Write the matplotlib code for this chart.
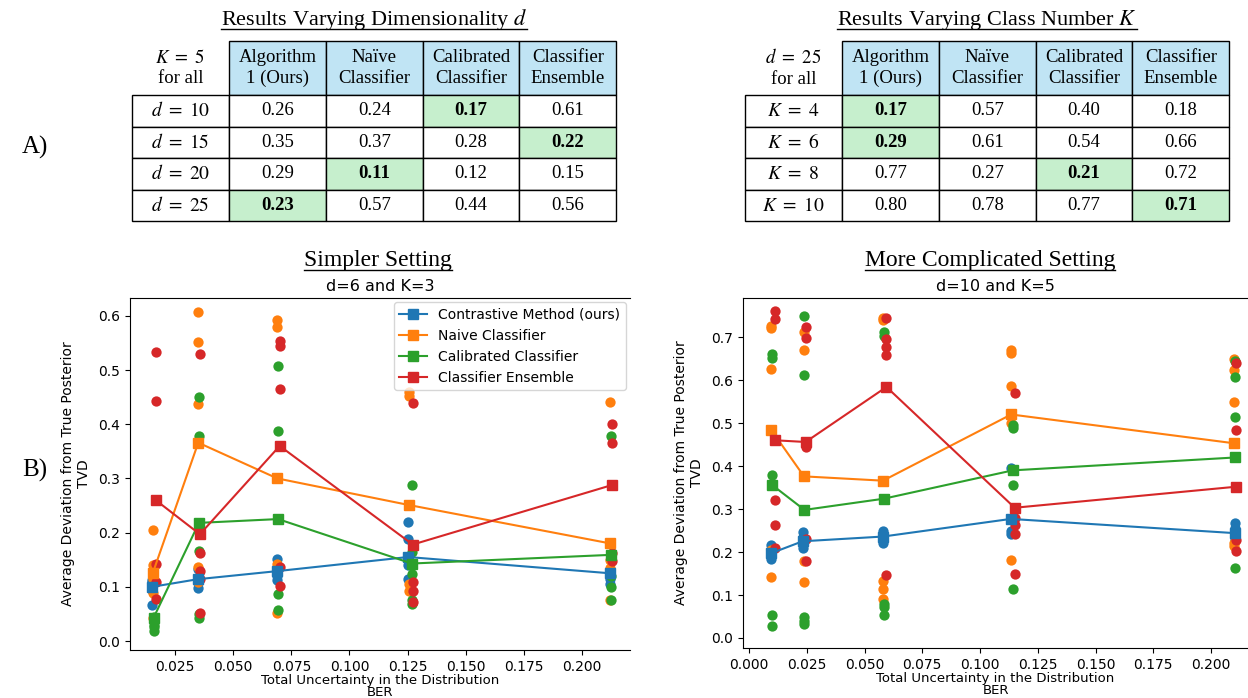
import numpy as np
import matplotlib.pyplot as plt
from matplotlib.patches import Rectangle
from matplotlib.ticker import MultipleLocator

plt.rcParams['mathtext.fontset'] = 'stix'

# ---- tables (panel A) ----
methods = ["Algorithm\n1 (Ours)", "Naïve\nClassifier", "Calibrated\nClassifier", "Classifier\nEnsemble"]

dim_corner = "$K\\ =\\ 5$\nfor all"
dim_rows = ["$d\\ =\\ 10$", "$d\\ =\\ 15$", "$d\\ =\\ 20$", "$d\\ =\\ 25$"]
dim_vals = [[0.26, 0.24, 0.17, 0.61],
            [0.35, 0.37, 0.28, 0.22],
            [0.29, 0.11, 0.12, 0.15],
            [0.23, 0.57, 0.44, 0.56]]

cls_corner = "$d\\ =\\ 25$\nfor all"
cls_rows = ["$K\\ =\\ 4$", "$K\\ =\\ 6$", "$K\\ =\\ 8$", "$K\\ =\\ 10$"]
cls_vals = [[0.17, 0.57, 0.40, 0.18],
            [0.29, 0.61, 0.54, 0.66],
            [0.77, 0.27, 0.21, 0.72],
            [0.80, 0.78, 0.77, 0.71]]

# ---- scatter + mean lines (panel B) ----
labels = ["Contrastive Method (ours)", "Naive Classifier", "Calibrated Classifier", "Classifier Ensemble"]
colors = ["tab:blue", "tab:orange", "tab:green", "tab:red"]

# simpler setting d=6, K=3 (one row per method)
simple_ber = [[0.0152, 0.0347, 0.0690, 0.1252, 0.2120],
              [0.0155, 0.0350, 0.0690, 0.1255, 0.2122],
              [0.0158, 0.0353, 0.0693, 0.1268, 0.2125],
              [0.0167, 0.0357, 0.0700, 0.1272, 0.2130]]
simple_mean = [[0.100, 0.114, 0.129, 0.155, 0.125],
               [0.126, 0.366, 0.300, 0.251, 0.180],
               [0.043, 0.218, 0.225, 0.143, 0.159],
               [0.260, 0.197, 0.360, 0.178, 0.288]]
simple_runs = [
    [[0.066, 0.095, 0.100, 0.108, 0.112], [0.133, 0.115, 0.107, 0.098], [0.151, 0.130, 0.120, 0.112],
     [0.220, 0.188, 0.140, 0.115], [0.128, 0.115, 0.105]],
    [[0.204, 0.140, 0.128, 0.115, 0.088, 0.042], [0.607, 0.552, 0.437, 0.136, 0.108],
     [0.593, 0.580, 0.143, 0.130, 0.052], [0.460, 0.452, 0.105, 0.093], [0.441, 0.150, 0.135, 0.075]],
    [[0.045, 0.038, 0.030, 0.025, 0.018], [0.451, 0.379, 0.166, 0.050, 0.042], [0.507, 0.388, 0.087, 0.058],
     [0.287, 0.165, 0.124, 0.075, 0.068], [0.379, 0.120, 0.100, 0.075]],
    [[0.533, 0.442, 0.143, 0.108, 0.078], [0.530, 0.162, 0.129, 0.115, 0.052], [0.553, 0.545, 0.465, 0.137, 0.102],
     [0.439, 0.108, 0.093, 0.072], [0.400, 0.366, 0.163, 0.147]],
]

# more complicated setting d=10, K=5
complex_ber = [[0.0095, 0.0232, 0.0580, 0.1133, 0.2102],
               [0.0095, 0.0238, 0.0580, 0.1135, 0.2100],
               [0.0100, 0.0240, 0.0583, 0.1142, 0.2105],
               [0.0112, 0.0245, 0.0595, 0.1150, 0.2110]]
complex_mean = [[0.197, 0.225, 0.236, 0.277, 0.244],
                [0.485, 0.376, 0.366, 0.520, 0.453],
                [0.356, 0.298, 0.324, 0.390, 0.420],
                [0.460, 0.456, 0.584, 0.303, 0.352]]
complex_runs = [
    [[0.217, 0.200, 0.190, 0.183], [0.247, 0.235, 0.222, 0.210], [0.250, 0.240, 0.230, 0.220],
     [0.396, 0.250, 0.242], [0.268, 0.257, 0.245, 0.235, 0.228]],
    [[0.727, 0.722, 0.626, 0.205, 0.142], [0.713, 0.671, 0.178, 0.131], [0.745, 0.740, 0.133, 0.115, 0.090],
     [0.669, 0.663, 0.587, 0.500, 0.181], [0.649, 0.624, 0.549, 0.220, 0.215]],
    [[0.661, 0.652, 0.380, 0.054, 0.028], [0.748, 0.613, 0.048, 0.040, 0.033], [0.711, 0.702, 0.079, 0.072, 0.054],
     [0.495, 0.488, 0.356, 0.113], [0.645, 0.607, 0.515, 0.162]],
    [[0.761, 0.743, 0.320, 0.262, 0.209], [0.724, 0.698, 0.445, 0.230, 0.178], [0.744, 0.696, 0.676, 0.658, 0.146],
     [0.571, 0.278, 0.262, 0.243, 0.150], [0.639, 0.485, 0.229, 0.202]],
]

W, H = 1248, 698
fig = plt.figure(figsize=(W / 100, H / 100), dpi=100)

HEAD_BLUE = "#c0e4f4"
BEST_GREEN = "#c6efcd"
SERIF = "Liberation Serif"


def px_rect(x0, y0, x1, y1):
    # pixel box (top-left origin) -> figure fraction rect
    return [x0 / W, 1 - y1 / H, (x1 - x0) / W, (y1 - y0) / H]


def draw_setting(ax, ber, means, runs):
    for i in range(4):
        for xg, pts in zip(ber[i], runs[i]):
            ax.scatter([xg] * len(pts), pts, color=colors[i], s=55, zorder=2, linewidths=0)
    for i in range(4):
        ax.plot(ber[i], means[i], marker='s', color=colors[i], ms=7.5, lw=1.5, label=labels[i], zorder=3)
    ax.spines['right'].set_visible(False)
    ax.tick_params(labelsize=10)
    ax.set_xlabel("Total Uncertainty in the Distribution\nBER", fontsize=9.5, labelpad=0, linespacing=0.95)
    ax.set_ylabel("Average Deviation from True Posterior\nTVD", fontsize=10, labelpad=5)


ax1 = fig.add_axes(px_rect(130, 298, 630, 650))
draw_setting(ax1, simple_ber, simple_mean, simple_runs)
ax1.set_xlim(0.00565, 0.2206)
ax1.set_ylim(-0.0166, 0.633)
ax1.xaxis.set_major_locator(MultipleLocator(0.025))
ax1.yaxis.set_major_locator(MultipleLocator(0.1))
ax1.set_title("d=6 and K=3", fontsize=11.5, pad=5)
ax1.legend(loc='upper right', fontsize=10, borderaxespad=0.3)

ax2 = fig.add_axes(px_rect(743, 298, 1248, 648))
draw_setting(ax2, complex_ber, complex_mean, complex_runs)
ax2.set_xlim(-0.0026, 0.216)
ax2.set_ylim(-0.0233, 0.791)
ax2.xaxis.set_major_locator(MultipleLocator(0.025))
ax2.yaxis.set_major_locator(MultipleLocator(0.1))
ax2.set_title("d=10 and K=5", fontsize=11.5, pad=5)

# overlay in pixel coordinates for tables and serif headings
ov = fig.add_axes([0, 0, 1, 1])
ov.set_xlim(0, W)
ov.set_ylim(H, 0)
ov.axis('off')


def draw_table(x0, corner, row_labels, values):
    label_w, col_w = 97, 96.8
    top, head_h, row_h = 41, 54, 31.5
    edges = [x0, x0 + label_w] + [x0 + label_w + col_w * (j + 1) for j in range(len(methods))]
    ov.text((edges[0] + edges[1]) / 2, top + head_h / 2, corner, ha='center', va='center',
            fontsize=13.5, family=SERIF, linespacing=1.25)
    for j, m in enumerate(methods):
        ov.add_patch(Rectangle((edges[j + 1], top), col_w, head_h, facecolor=HEAD_BLUE,
                               edgecolor='black', lw=1))
        ov.text((edges[j + 1] + edges[j + 2]) / 2, top + head_h / 2, m, ha='center', va='center',
                fontsize=13.5, family=SERIF, linespacing=1.25)
    for i, (lab, row) in enumerate(zip(row_labels, values)):
        y = top + head_h + i * row_h
        best = int(np.argmin(row))
        ov.add_patch(Rectangle((edges[0], y), label_w, row_h, facecolor='white', edgecolor='black', lw=1))
        ov.text((edges[0] + edges[1]) / 2, y + row_h / 2, lab, ha='center', va='center', fontsize=14)
        for j, v in enumerate(row):
            ov.add_patch(Rectangle((edges[j + 1], y), col_w, row_h,
                                   facecolor=BEST_GREEN if j == best else 'white',
                                   edgecolor='black', lw=1))
            ov.text((edges[j + 1] + edges[j + 2]) / 2, y + row_h / 2, f"{v:.2f}", ha='center',
                    va='center', fontsize=13.5, family=SERIF,
                    fontweight='bold' if j == best else 'normal')
    return (edges[0] + edges[-1]) / 2


cx_left = draw_table(132, dim_corner, dim_rows, dim_vals)
cx_right = draw_table(745, cls_corner, cls_rows, cls_vals)

headings = [
    ov.text(cx_left, 25, "Results Varying Dimensionality $d$", ha='center', va='baseline',
            fontsize=16, family=SERIF),
    ov.text(cx_right, 25, "Results Varying Class Number $K$", ha='center', va='baseline',
            fontsize=16, family=SERIF),
    ov.text(378, 266, "Simpler Setting", ha='center', va='baseline', fontsize=17, family=SERIF),
    ov.text(990, 266, "More Complicated Setting", ha='center', va='baseline', fontsize=17, family=SERIF),
]
ov.text(22, 147, "A)", ha='left', va='center', fontsize=18, family=SERIF)
ov.text(22, 470, "B)", ha='left', va='center', fontsize=18, family=SERIF)

# underline the serif headings
fig.canvas.draw()
r = fig.canvas.get_renderer()
for t in headings:
    bb = t.get_window_extent(r)
    yb = t.get_position()[1] + 3.5
    ov.plot([bb.x0, bb.x1], [yb, yb], color='black', lw=1)

fig.savefig("out.png", dpi=100)
